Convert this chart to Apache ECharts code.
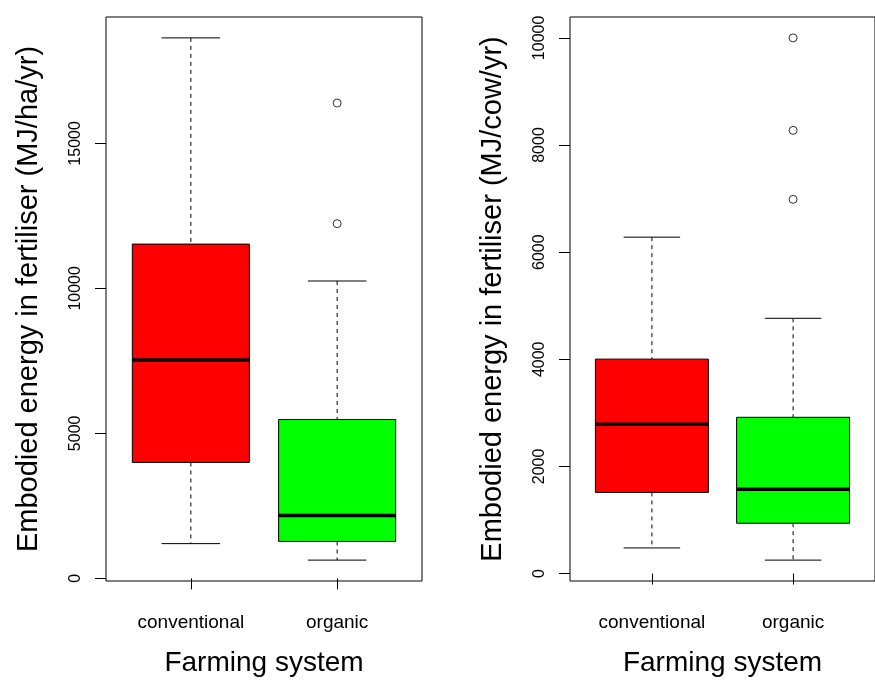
<!DOCTYPE html>
<html>
<head>
<meta charset="utf-8">
<script src="https://cdn.jsdelivr.net/npm/echarts@6/dist/echarts.min.js"></script>
<style>
html,body{margin:0;padding:0;background:#fff;}
#chart{width:875px;height:682px;}
</style>
</head>
<body>
<div id="chart"></div>
<script>
// ---- data ----
const categories = ['conventional', 'organic'];
const boxColors = ['#FF0000', '#00FF00'];
// [low whisker, Q1, median, Q3, high whisker]
const haStats = [[1198, 3997, 7530, 11527, 18638], [629, 1272, 2171, 5479, 10254]];
const haOutliers = [[2, 12231], [2, 16392]];
const cowStats = [[478, 1515, 2788, 4003, 6280], [251, 940, 1572, 2917, 4765]];
const cowOutliers = [[2, 6986], [2, 8274], [2, 10000]];
const haTicks = [0, 5000, 10000, 15000];
const cowTicks = [0, 2000, 4000, 6000, 8000, 10000];
const catTicks = [1, 2];
const yTitleHa = 'Embodied energy in fertiliser (MJ/ha/yr)';
const yTitleCow = 'Embodied energy in fertiliser (MJ/cow/yr)';
const xTitle = 'Farming system';

const FONT = "'Liberation Sans', Arial, sans-serif";

function rRange(stats, outs) {
  const vals = [];
  stats.forEach(s => vals.push(...s));
  outs.forEach(o => vals.push(o[1]));
  const lo = Math.min(...vals), hi = Math.max(...vals);
  const ext = (hi - lo) * 0.04;
  return [lo - ext, hi + ext];
}
const haRange = rRange(haStats, haOutliers);
const cowRange = rRange(cowStats, cowOutliers);

function boxData(stats) {
  return stats.map((s, i) => [i + 1].concat(s));
}

function renderBox(params, api) {
  const x = api.value(0);
  const lo = api.value(1), q1 = api.value(2), md = api.value(3), q3 = api.value(4), hi = api.value(5);
  const p = (xx, yy) => api.coord([xx, yy]);
  const c = boxColors[params.dataIndex];
  const pLo = p(x, lo), pQ1 = p(x, q1), pMd = p(x, md), pQ3 = p(x, q3), pHi = p(x, hi);
  const left = p(x - 0.4, q3), right = p(x + 0.4, q1);
  const capL = p(x - 0.2, lo)[0], capR = p(x + 0.2, lo)[0];
  const black = '#000';
  return {
    type: 'group',
    children: [
      {type: 'line', shape: {x1: pHi[0], y1: pHi[1], x2: pQ3[0], y2: pQ3[1]}, style: {stroke: black, lineWidth: 1, lineDash: [4, 4]}},
      {type: 'line', shape: {x1: pQ1[0], y1: pQ1[1], x2: pLo[0], y2: pLo[1]}, style: {stroke: black, lineWidth: 1, lineDash: [4, 4]}},
      {type: 'line', shape: {x1: capL, y1: pHi[1], x2: capR, y2: pHi[1]}, style: {stroke: black, lineWidth: 1}},
      {type: 'line', shape: {x1: capL, y1: pLo[1], x2: capR, y2: pLo[1]}, style: {stroke: black, lineWidth: 1}},
      {type: 'rect', shape: {x: left[0], y: left[1], width: right[0] - left[0], height: right[1] - left[1]}, style: {fill: c, stroke: black, lineWidth: 1}},
      {type: 'line', shape: {x1: left[0], y1: pMd[1], x2: right[0], y2: pMd[1]}, style: {stroke: black, lineWidth: 3.5}}
    ]
  };
}

function xAxisFor(i) {
  return {
    type: 'value', gridIndex: i, min: 0.42, max: 2.58,
    splitLine: {show: false},
    axisLine: {show: false},
    axisTick: {show: true, customValues: catTicks, length: 11, lineStyle: {color: '#000', width: 1}},
    axisLabel: {show: true, customValues: catTicks, formatter: v => categories[Math.round(v) - 1] || '',
      margin: 32, fontSize: 19, color: '#000', fontFamily: FONT},
    name: xTitle, nameLocation: 'middle', nameGap: 68,
    nameTextStyle: {fontSize: 28, color: '#000', fontFamily: FONT}
  };
}

function yAxisFor(i, range, ticks, title) {
  return {
    type: 'value', gridIndex: i, min: range[0], max: range[1],
    splitLine: {show: false},
    axisLine: {show: false},
    axisTick: {show: true, customValues: ticks, length: 11, lineStyle: {color: '#000', width: 1}},
    axisLabel: {show: true, customValues: ticks, rotate: 90, margin: 22, fontSize: 16, color: '#000', fontFamily: FONT,
      formatter: v => String(Math.round(v))},
    name: title, nameLocation: 'middle', nameGap: 63, nameRotate: 90,
    nameTextStyle: {fontSize: 29, color: '#000', fontFamily: FONT}
  };
}

const chart = echarts.init(document.getElementById('chart'), null, {renderer: 'canvas'});
chart.setOption({
  animation: false,
  backgroundColor: '#fff',
  grid: [
    {left: 106, top: 17, width: 316, height: 565, show: true, borderColor: '#000', borderWidth: 1, backgroundColor: 'transparent'},
    {left: 570, top: 17, width: 316, height: 565, show: true, borderColor: '#000', borderWidth: 1, backgroundColor: 'transparent'}
  ],
  xAxis: [xAxisFor(0), xAxisFor(1)],
  yAxis: [yAxisFor(0, haRange, haTicks, yTitleHa), yAxisFor(1, cowRange, cowTicks, yTitleCow)],
  series: [
    {type: 'custom', xAxisIndex: 0, yAxisIndex: 0, renderItem: renderBox, data: boxData(haStats), silent: true},
    {type: 'custom', xAxisIndex: 1, yAxisIndex: 1, renderItem: renderBox, data: boxData(cowStats), silent: true},
    {type: 'scatter', xAxisIndex: 0, yAxisIndex: 0, data: haOutliers, symbol: 'circle', symbolSize: 8,
      itemStyle: {color: 'rgba(0,0,0,0)', borderColor: '#000', borderWidth: 1}, silent: true},
    {type: 'scatter', xAxisIndex: 1, yAxisIndex: 1, data: cowOutliers, symbol: 'circle', symbolSize: 8,
      itemStyle: {color: 'rgba(0,0,0,0)', borderColor: '#000', borderWidth: 1}, silent: true}
  ]
});
</script>
</body>
</html>
